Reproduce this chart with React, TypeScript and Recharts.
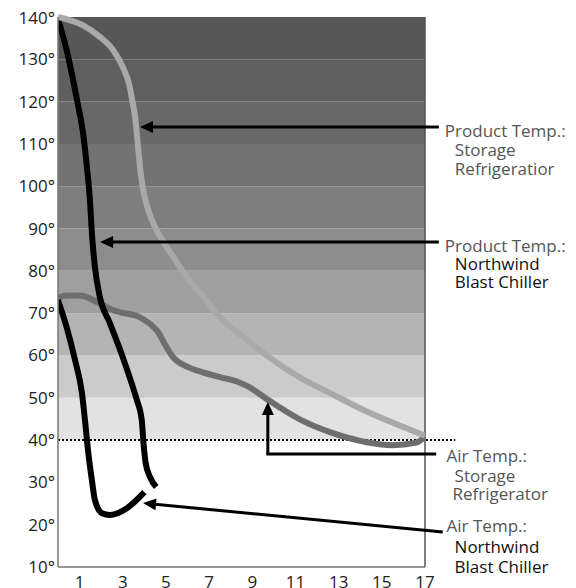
import React from 'react';
import { LineChart, Line, XAxis, YAxis, ReferenceArea, ReferenceLine, ReferenceDot } from 'recharts';

// ---- data ----
const xTicks = [1, 3, 5, 7, 9, 11, 13, 15, 17];
const yTicks = [10, 20, 30, 40, 50, 60, 70, 80, 90, 100, 110, 120, 130, 140];
const bandBottoms = [40, 50, 60, 70, 80, 90, 100, 110, 120, 130];
const safeTemp = 40;

// Product Temp.: Storage Refrigerator (light gray)
const productStorageX = [0, 1.16, 1.94, 2.55, 3.0, 3.3, 3.45, 3.58, 3.66, 3.72, 3.82, 3.95, 4.18, 4.57, 4.88, 5.34, 5.96, 6.73, 7.5, 8.6, 9.8, 11.2, 12.6, 14.2, 15.8, 17];
const productStorageY = [140, 138, 135.3, 132.2, 128.2, 124, 120, 116, 112, 108.6, 103.5, 99, 94.4, 89.6, 86.9, 83.3, 78.6, 73.9, 69.1, 64.3, 59.5, 54.8, 51.1, 47, 43.5, 41];

// Product Temp.: Northwind Blast Chiller (black)
const productChillerX = [0, 0.4, 0.88, 1.16, 1.34, 1.48, 1.57, 1.71, 1.94, 2.4, 3.0, 3.47, 3.65, 3.88, 3.96, 4.06, 4.26, 4.55];
const productChillerY = [139.5, 132.2, 120.4, 112.6, 104.5, 96.7, 88.9, 80.9, 73.8, 67.7, 59.6, 52.5, 49.5, 44.7, 39.3, 34.6, 31.3, 28.9];

// Air Temp.: Storage Refrigerator (dark gray)
const airStorageX = [0, 0.4, 1.0, 1.9, 2.5, 2.9, 3.8, 4.3, 4.6, 5.0, 5.3, 6.0, 6.6, 7.5, 8.4, 8.9, 9.7, 11.2, 12.7, 14.3, 15.5, 16.6, 17];
const airStorageY = [73.6, 74.2, 74.2, 72.4, 70.8, 70.2, 69.0, 67.3, 65.8, 62.2, 59.8, 57.3, 56.2, 54.9, 53.6, 52.4, 49.6, 44.9, 41.7, 39.5, 38.8, 39.4, 40.8];

// Air Temp.: Northwind Blast Chiller (black)
const airChillerX = [0, 0.4, 0.79, 1.11, 1.25, 1.39, 1.57, 1.71, 2.04, 2.4, 3.19, 4.0];
const airChillerY = [73.1, 66.7, 58.9, 51.1, 44.7, 37.6, 30.5, 25.8, 22.7, 22.3, 23.9, 27.7];

// annotation texts
const labelProductStorage = ['Product Temp.:', 'Storage', 'Refrigeratior'];
const labelProductChiller = ['Product Temp.:', 'Northwind', 'Blast Chiller'];
const labelAirStorage = ['Air Temp.:', 'Storage', 'Refrigerator'];
const labelAirChiller = ['Air Temp.:', 'Northwind', 'Blast Chiller'];

// ---- styles ----
const BAND_FILLS = ['#e2e2e2', '#cbcbcb', '#b4b4b4', '#9f9f9f', '#8d8d8d', '#7e7e7e', '#737373', '#686868', '#5f5f5f', '#575757'];
const FONT = 'Open Sans, sans-serif';
const GRAY_TEXT = '#555';
const DARK_TEXT = '#111';

const toPoints = (xs: number[], ys: number[]) => xs.map((x, i) => ({ x, y: ys[i] }));

const ArrowShape = (props: any) => {
  const { x1, y1, x2, y2 } = props;
  const ang = Math.atan2(y2 - y1, x2 - x1);
  const L = 13;
  const W = 6;
  const c = Math.cos(ang);
  const s = Math.sin(ang);
  const bx = x2 - L * c;
  const by = y2 - L * s;
  const pts = `${x2},${y2} ${bx - W * s},${by + W * c} ${bx + W * s},${by - W * c}`;
  return (
    <g>
      <line x1={x1} y1={y1} x2={bx + c} y2={by + s} stroke="#000" strokeWidth={3} />
      <polygon points={pts} fill="#000" />
    </g>
  );
};

const PlainShape = (props: any) => {
  const { x1, y1, x2, y2 } = props;
  return <line x1={x1} y1={y1} x2={x2} y2={y2} stroke="#000" strokeWidth={3} strokeLinecap="square" />;
};

const DottedShape = (props: any) => {
  const { x1, y1, x2, y2 } = props;
  return <line x1={x1} y1={y1} x2={x2} y2={y2} stroke="#000" strokeWidth={2} strokeDasharray="2 2" />;
};

const makeLabel = (lines: string[], indents: number[], gaps: number[], colors: string[]) => (props: any) => {
  const { cx, cy } = props;
  return (
    <g>
      {lines.map((t, i) => (
        <text key={i} x={cx + indents[i]} y={cy + gaps[i]} fill={colors[i]} fontFamily={FONT} fontSize={17}>
          {t}
        </text>
      ))}
    </g>
  );
};

export default function App() {
  return (
    <LineChart
      width={560}
      height={580}
      margin={{ top: 9, right: 143, left: 0, bottom: 0 }}
      style={{ fontFamily: FONT }}
    >
      <XAxis
        type="number"
        dataKey="x"
        domain={[0, 17]}
        ticks={xTicks}
        allowDataOverflow
        tickLine={false}
        tickSize={0}
        tickMargin={9}
        height={21}
        axisLine={{ stroke: '#777', strokeWidth: 1.5 }}
        tick={{ fontSize: 17, fill: '#222', fontFamily: FONT }}
      />
      <YAxis
        type="number"
        dataKey="y"
        domain={[10, 140]}
        ticks={yTicks}
        width={50}
        tickLine={false}
        tickSize={0}
        tickMargin={3}
        tickFormatter={(v: number) => `${v}°`}
        axisLine={{ stroke: '#777', strokeWidth: 1.5 }}
        tick={{ fontSize: 17, fill: '#222', fontFamily: FONT }}
      />
      {bandBottoms.map((b, i) => (
        <ReferenceArea key={b} y1={b} y2={b + 10} fill={BAND_FILLS[i]} fillOpacity={1} stroke="none" />
      ))}
      <ReferenceLine x={17} stroke="#555" strokeWidth={1.5} />
      <ReferenceLine
        segment={[{ x: 0, y: safeTemp }, { x: 18.4, y: safeTemp }]}
        ifOverflow="visible"
        shape={DottedShape}
      />
      <Line data={toPoints(airStorageX, airStorageY)} dataKey="y" type="monotone" stroke="#6e6e6e" strokeWidth={6} dot={false} isAnimationActive={false} />
      <Line data={toPoints(productChillerX, productChillerY)} dataKey="y" type="monotone" stroke="#000" strokeWidth={6} dot={false} isAnimationActive={false} />
      <Line data={toPoints(airChillerX, airChillerY)} dataKey="y" type="monotone" stroke="#000" strokeWidth={6} dot={false} isAnimationActive={false} />
      <Line data={toPoints(productStorageX, productStorageY)} dataKey="y" type="monotone" stroke="#a9a9a9" strokeWidth={6} dot={false} isAnimationActive={false} />

      <ReferenceLine segment={[{ x: 17.64, y: 114 }, { x: 3.8, y: 114 }]} ifOverflow="visible" shape={ArrowShape} />
      <ReferenceLine segment={[{ x: 17.64, y: 86.8 }, { x: 1.95, y: 86.8 }]} ifOverflow="visible" shape={ArrowShape} />
      <ReferenceLine segment={[{ x: 17.45, y: 36.7 }, { x: 9.72, y: 36.7 }]} ifOverflow="visible" shape={PlainShape} />
      <ReferenceLine segment={[{ x: 9.72, y: 36.7 }, { x: 9.72, y: 49.0 }]} ifOverflow="visible" shape={ArrowShape} />
      <ReferenceLine segment={[{ x: 17.82, y: 18.3 }, { x: 3.94, y: 25.1 }]} ifOverflow="visible" shape={ArrowShape} />

      <ReferenceDot x={17.92} y={111.6} r={0} ifOverflow="visible"
        shape={makeLabel(labelProductStorage, [0, 10, 10], [0, 19, 38], [GRAY_TEXT, GRAY_TEXT, GRAY_TEXT])} />
      <ReferenceDot x={17.92} y={84.4} r={0} ifOverflow="visible"
        shape={makeLabel(labelProductChiller, [0, 10, 10], [0, 18, 36], [GRAY_TEXT, DARK_TEXT, DARK_TEXT])} />
      <ReferenceDot x={18.0} y={34.8} r={0} ifOverflow="visible"
        shape={makeLabel(labelAirStorage, [0, 8, 6], [0, 20, 38], [GRAY_TEXT, GRAY_TEXT, GRAY_TEXT])} />
      <ReferenceDot x={18.0} y={18.3} r={0} ifOverflow="visible"
        shape={makeLabel(labelAirChiller, [0, 8, 8], [0, 21, 41], [GRAY_TEXT, DARK_TEXT, DARK_TEXT])} />
    </LineChart>
  );
}
